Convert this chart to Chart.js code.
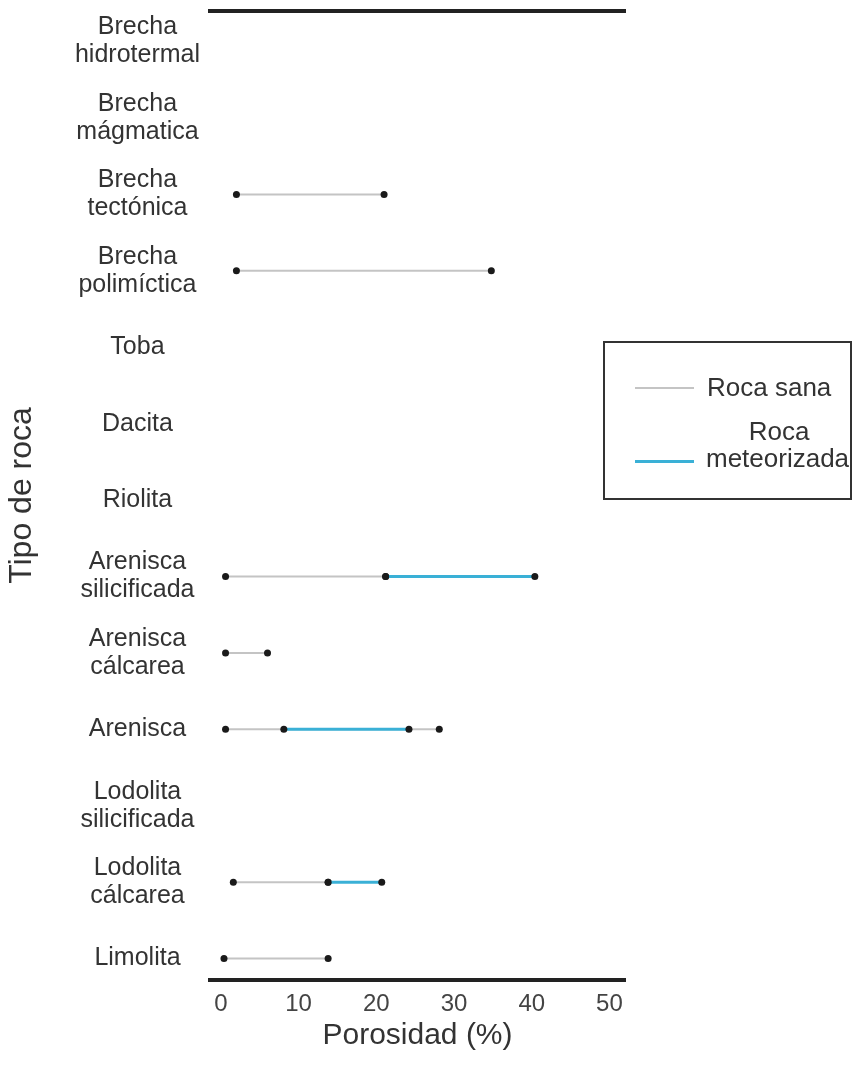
<!DOCTYPE html>
<html lang="es">
<head>
  <meta charset="UTF-8" />
  <title>Porosidad por tipo de roca</title>
  <script src="https://cdn.jsdelivr.net/npm/chart.js"></script>
  <style>
    body { margin: 0; background: #fff; font-family: 'Liberation Sans', Arial, sans-serif; color: #333; }
    #wrap { position: relative; width: 854px; height: 1070px; }
    #leyenda { position: absolute; left: 603px; top: 341px; width: 245px; height: 155px; border: 2px solid #333; font-size: 26px; color: #333; }
    #leyenda .linea { position: absolute; left: 30px; width: 59px; }
    #leyenda .txt { position: absolute; line-height: 28px; white-space: nowrap; }
  </style>
</head>
<body>

<div id="wrap">
  <canvas id="grafPorosidad" width="854" height="1070"></canvas>
  <div id="leyenda">
    <div class="linea" style="top:44px;border-top:2px solid #c4c4c4"></div>
    <div class="txt" style="left:102px;top:30px">Roca sana</div>
    <div class="linea" style="top:117px;border-top:3px solid #3ab0d6"></div>
    <div class="txt" style="left:102px;top:74px;width:144px;text-align:center">Roca</div>
    <div class="txt" style="left:101px;top:101px">meteorizada</div>
  </div>
</div>

<script>
  // categorias (de arriba hacia abajo)
  const tiposRoca = [
    ['Brecha', 'hidrotermal'],
    ['Brecha', 'mágmatica'],
    ['Brecha', 'tectónica'],
    ['Brecha', 'polimíctica'],
    'Toba',
    'Dacita',
    'Riolita',
    ['Arenisca', 'silicificada'],
    ['Arenisca', 'cálcarea'],
    'Arenisca',
    ['Lodolita', 'silicificada'],
    ['Lodolita', 'cálcarea'],
    'Limolita'
  ];

  // rango de porosidad (%) roca sana
  const sanaMin = [null, null, 2.0, 2.0, null, null, null, 0.6, 0.6, 0.6, null, 1.6, 0.4];
  const sanaMax = [null, null, 21.0, 34.8, null, null, null, 21.2, 6.0, 28.1, null, 13.8, 13.8];

  // rango de porosidad (%) roca meteorizada
  const meteoMin = [null, null, null, null, null, null, null, 21.2, null, 8.1, null, 13.8, null];
  const meteoMax = [null, null, null, null, null, null, null, 40.4, null, 24.2, null, 20.7, null];

  const ticksPorosidad = [0, 10, 20, 30, 40, 50];

  const GRIS = '#c4c4c4';
  const AZUL = '#3ab0d6';
  const FUENTE = "'Liberation Sans', Arial, sans-serif";

  function rango(mins, maxs, color, ancho, nombre, orden) {
    const ds = [];
    mins.forEach((m, i) => {
      if (m === null) return;
      ds.push({
        label: nombre,
        order: orden,
        data: [{ x: m, y: i }, { x: maxs[i], y: i }],
        showLine: true,
        borderColor: color,
        borderWidth: ancho,
        pointRadius: 3.5,
        pointBackgroundColor: '#1a1a1a',
        pointBorderWidth: 0
      });
    });
    return ds;
  }

  // la meteorizada va encima de la sana
  const datasets = rango(sanaMin, sanaMax, GRIS, 2, 'Roca sana', 2)
    .concat(rango(meteoMin, meteoMax, AZUL, 3, 'Roca meteorizada', 1));

  const sinPadding = s => { s.paddingTop = 0; s.paddingBottom = 0; s.paddingLeft = 0; s.paddingRight = 0; };

  new Chart(document.getElementById('grafPorosidad').getContext('2d'), {
    type: 'scatter',
    data: { datasets },
    options: {
      responsive: false,
      animation: false,
      layout: { padding: { top: 11, right: 229, bottom: 0, left: 0 } },
      plugins: { legend: { display: false }, tooltip: { enabled: false } },
      scales: {
        x: {
          type: 'linear',
          position: 'bottom',
          min: -1.4,
          max: 52,
          afterBuildTicks: s => { s.ticks = ticksPorosidad.map(v => ({ value: v })); },
          afterFit: s => { s.height = 90; sinPadding(s); },
          grid: { display: false, drawTicks: false },
          border: { display: true, color: '#222', width: 4 },
          ticks: { color: '#444', padding: 10, font: { family: FUENTE, size: 24 } },
          title: {
            display: true,
            text: 'Porosidad (%)',
            color: '#333',
            font: { family: FUENTE, size: 30 },
            padding: { top: 0, bottom: 16 }
          }
        },
        xTop: {
          type: 'linear',
          position: 'top',
          min: -1.4,
          max: 52,
          afterFit: s => { s.height = 0; sinPadding(s); },
          grid: { display: false, drawTicks: false },
          border: { display: true, color: '#222', width: 4 },
          ticks: { display: false }
        },
        y: {
          type: 'linear',
          reverse: true,
          min: -0.4,
          max: 12.28,
          afterBuildTicks: s => { s.ticks = tiposRoca.map((_, i) => ({ value: i })); },
          afterFit: s => { s.width = 210; sinPadding(s); },
          grid: { display: false, drawTicks: false },
          border: { display: false },
          ticks: {
            color: '#333',
            padding: 10,
            crossAlign: 'center',
            font: { family: FUENTE, size: 25, lineHeight: 1.12 },
            callback: v => tiposRoca[v]
          },
          title: {
            display: true,
            text: 'Tipo de roca',
            color: '#333',
            font: { family: FUENTE, size: 32 },
            padding: { top: 3, bottom: 0 }
          }
        }
      }
    }
  });
</script>

</body>
</html>
